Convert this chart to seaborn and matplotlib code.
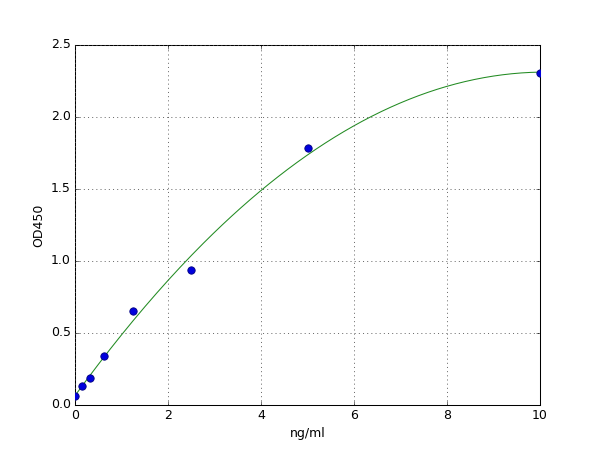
import numpy as np
import pandas as pd
import matplotlib
matplotlib.use("Agg")
import matplotlib.pyplot as plt
import seaborn as sns

conc = [0.0, 0.156, 0.3125, 0.625, 1.25, 2.5, 5.0, 10.0]
od450 = [0.065, 0.135, 0.19, 0.34, 0.65, 0.935, 1.785, 2.305]
x_label = "ng/ml"
y_label = "OD450"

plt.style.use("classic")
fig = plt.figure(figsize=(8, 6), dpi=75)
ax = fig.add_axes([0.125, 0.1, 0.775, 0.8])

coef = np.polyfit(conc, od450, 2)
xs = np.linspace(min(conc), max(conc), 200)
fit = pd.DataFrame({"x": xs, "y": np.polyval(coef, xs)})
pts = pd.DataFrame({"x": conc, "y": od450})

sns.lineplot(data=fit, x="x", y="y", ax=ax, color="#228b22", linewidth=1.0, zorder=2)
sns.scatterplot(data=pts, x="x", y="y", ax=ax, color="#0000dd", edgecolor="#00007f",
                s=50, linewidth=0.8, zorder=3, clip_on=True)

ax.set_xlim(0, 10)
ax.set_ylim(0, 2.5)
ax.set_xticks([0, 2, 4, 6, 8, 10])
ax.set_yticks([0.0, 0.5, 1.0, 1.5, 2.0, 2.5])
ax.grid(True, linestyle=":", color="#555555", linewidth=0.8)
ax.set_xlabel(x_label, fontsize=12)
ax.set_ylabel(y_label, fontsize=12)
ax.tick_params(labelsize=12)

fig.savefig("out.png", dpi=75)
